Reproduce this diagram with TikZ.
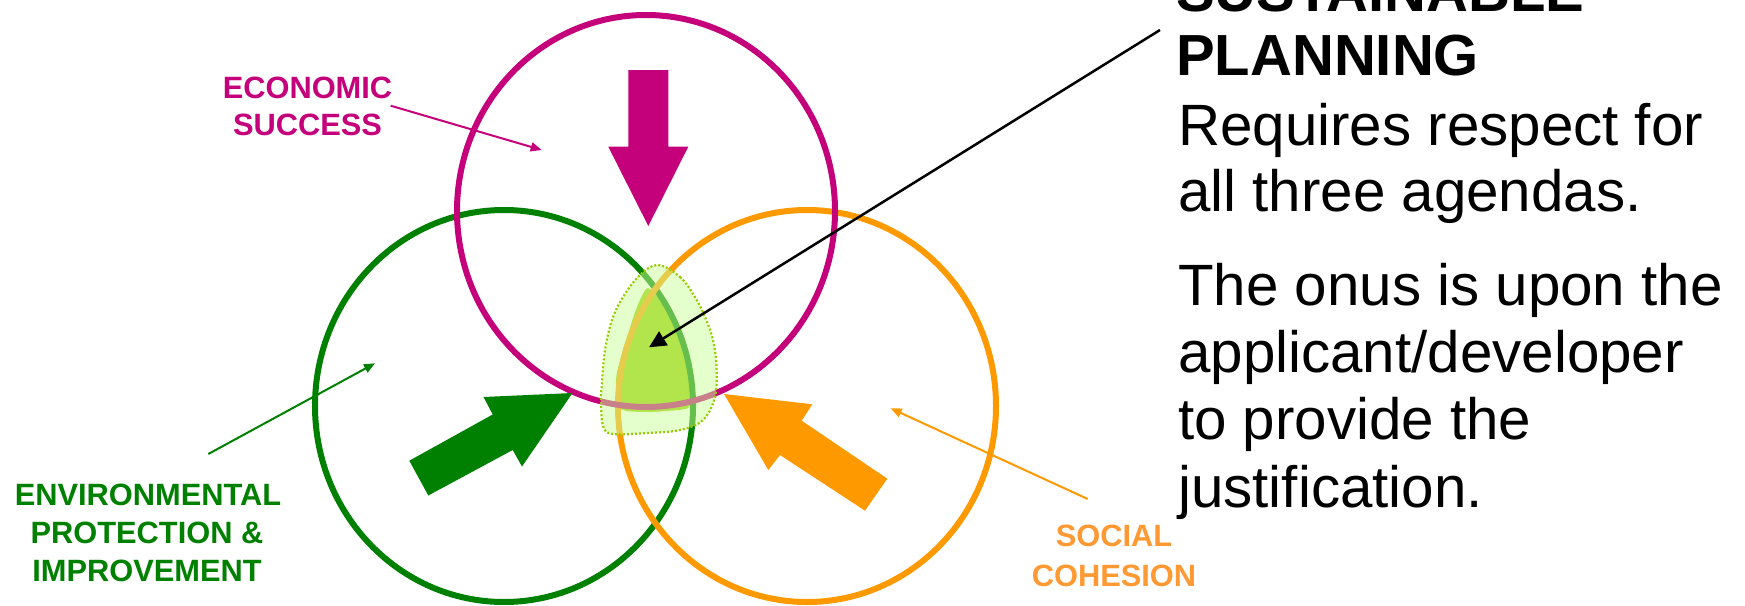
\documentclass[tikz,border=0pt]{standalone}
\usepackage{fontspec}
\setmainfont{Liberation Sans}
\usetikzlibrary{arrows.meta}
\definecolor{econ}{HTML}{C4007A}
\definecolor{envgreen}{HTML}{008000}
\definecolor{socorange}{HTML}{FF9900}
\definecolor{soclabel}{HTML}{FF9933}
\definecolor{coregreen}{HTML}{99CC00}
\definecolor{palegreen}{HTML}{CCFF99}
\begin{document}
\begin{tikzpicture}[x=1pt,y=-1pt,
  ring/.style={line width=6pt},
  tag/.style={font=\fontsize{30.8}{37}\selectfont\bfseries, anchor=base, inner sep=0pt},
  pointer/.style={line width=2pt, -{Triangle[length=11pt,width=9pt]}},
  bodytext/.style={font=\fontsize{58.3}{67}\selectfont, anchor=base west, inner sep=0pt},
  headline/.style={font=\fontsize{58}{67}\selectfont\bfseries, anchor=base west, inner sep=0pt},
]
\useasboundingbox (0,0) rectangle (1745,605);
\clip (0,0) rectangle (1745,605);

% core of the overlap, drawn beneath the rings
\fill[coregreen] plot[smooth cycle, tension=0.4] coordinates {
  (648,288) (640,300) (633,318) (625,345) (617,372) (616,386) (618,406)
  (626,411) (647,412) (667,411) (688,408) (690,395) (687,367) (677,332) (664,305)};

% the three agendas
\draw[ring, envgreen]  (504,406) ellipse [x radius=189, y radius=196];
\draw[ring, socorange] (807,406) ellipse [x radius=189, y radius=196];
\draw[ring, econ]      (646,211) ellipse [x radius=189, y radius=196];

% block arrows pointing into the overlap
\fill[econ] (628.3,70) -- (668.3,70) -- (668.3,146.7) -- (688.3,146.7)
  -- (648.3,226) -- (608.3,146.7) -- (628.3,146.7) -- cycle;
\fill[envgreen] (409.3,460.7) -- (492.7,414.5) -- (483.5,397) -- (572.5,393)
  -- (522,466.5) -- (512.7,450) -- (428.3,495.5) -- cycle;
\fill[socorange] (724,394) -- (812.3,404.3) -- (801.7,420.7) -- (887.3,478.7)
  -- (865,510.7) -- (780,455) -- (768.3,470) -- cycle;

% translucent halo over the overlap
\path[fill=palegreen, fill opacity=0.5, draw=coregreen, line width=2.2pt,
      dash pattern=on 2pt off 2pt]
  plot[smooth cycle, tension=0.6] coordinates {
  (658,265) (680,277) (695,297) (705,317) (713,340) (716.5,367) (715,397)
  (703,420) (680,430) (647,433) (613,434) (603,426) (601,400) (602,383)
  (605,350) (612,320) (623,297) (640,275)};

% labels
\node[tag, text=econ] (econA) at (307.5,98.3) {ECONOMIC};
\node[tag, text=econ] (econB) at (307.5,135) {SUCCESS};
\node[tag, text=envgreen] (envA) at (148,505) {ENVIRONMENTAL};
\node[tag, text=envgreen] (envB) at (147,543.3) {PROTECTION \&};
\node[tag, text=envgreen] (envC) at (147,581.7) {IMPROVEMENT};
\node[tag, text=soclabel] (socA) at (1114,546.7) {SOCIAL};
\node[tag, text=soclabel] (socB) at (1114,586) {COHESION};

% label pointers
\coordinate (econFrom) at (390.7,105.7);
\coordinate (econTo) at (541.7,150);
\coordinate (envFrom) at (208.3,454);
\coordinate (envTo) at (375,363.3);
\coordinate (socFrom) at (1087.7,499);
\coordinate (socTo) at (890.7,408.3);
\draw[pointer, econ] (econFrom) -- (econTo);
\draw[pointer, envgreen] (envFrom) -- (envTo);
\draw[pointer, socorange] (socFrom) -- (socTo);

% heading and explanation
\node[headline] (headA) at (1176,11) {SUSTAINABLE};
\node[headline] (headB) at (1176,75) {PLANNING};
\node[bodytext] (lineA) at (1178,145.5) {Requires respect for};
\node[bodytext] (lineB) at (1178,211.5) {all three agendas.};
\node[bodytext] (lineC) at (1178,305.5) {The onus is upon the};
\node[bodytext] (lineD) at (1178,372.5) {applicant/developer};
\node[bodytext] (lineE) at (1178,439.5) {to provide the};
\node[bodytext] (lineF) at (1178,507.5) {justification.};

\coordinate (headTail) at (1160,30);
\coordinate (coreCentre) at (649,347.3);
\draw[line width=2.5pt, -{Triangle[length=17pt,width=16pt]}] (headTail) -- (coreCentre);
\end{tikzpicture}
\end{document}
